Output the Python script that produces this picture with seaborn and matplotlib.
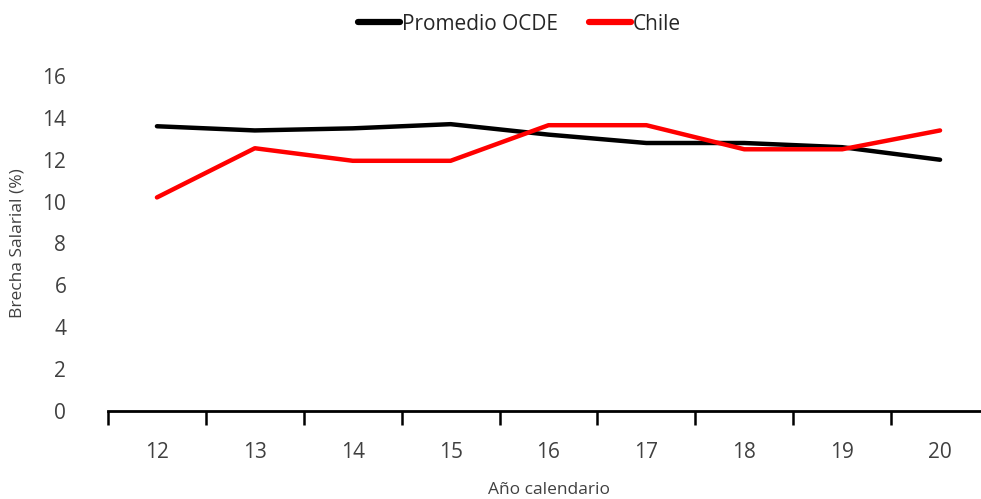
import matplotlib
matplotlib.use("Agg")
import matplotlib.pyplot as plt
import seaborn as sns
import pandas as pd
import numpy as np
from matplotlib.lines import Line2D

years = ["12", "13", "14", "15", "16", "17", "18", "19", "20"]
ocde = [13.6, 13.4, 13.5, 13.7, 13.2, 12.8, 12.8, 12.6, 12.0]
chile = [10.2, 12.55, 11.95, 11.95, 13.65, 13.65, 12.5, 12.5, 13.4]
series_names = ["Promedio OCDE", "Chile"]
colors = ["#000000", "#ff0000"]

sns.set_theme(style="white")
plt.rcParams['font.family'] = ['Open Sans', 'DejaVu Sans']

rows = []
for i, y in enumerate(years):
    rows.append({"x": i, "val": ocde[i], "serie": series_names[0]})
    rows.append({"x": i, "val": chile[i], "serie": series_names[1]})
df = pd.DataFrame(rows)

fig = plt.figure(figsize=(9.81, 4.99), dpi=100)
ax = fig.add_axes([108/981, (499-411)/499, (989-108)/981, (411-76)/499])

sns.lineplot(data=df, x="x", y="val", hue="serie", palette=dict(zip(series_names, colors)),
             linewidth=3.2, ax=ax, legend=False)

ax.set_xlim(-0.5, 8.5)
ax.set_ylim(0, 16)
ax.set_yticks(range(0, 17, 2))
ax.set_xticks(range(len(years)))
ax.set_xticklabels(years)
ax.set_xticks(np.arange(-0.5, 9.0, 1.0), minor=True)
ax.tick_params(axis="x", which="major", bottom=True, length=0, pad=22, labelsize=15, labelcolor="#404040")
ax.tick_params(axis="x", which="minor", bottom=True, length=10, width=1.8, color="black", direction="out")
ax.tick_params(axis="y", length=0, pad=30, labelsize=15, labelcolor="#404040")

for s in ["top", "right", "left"]:
    ax.spines[s].set_visible(False)
ax.spines["bottom"].set_linewidth(2)
ax.spines["bottom"].set_color("black")

ax.set_xlabel("Año calendario", fontsize=12.5, color="#404040", labelpad=14)
ax.set_ylabel("Brecha Salarial (%)", fontsize=12.5, color="#404040", labelpad=12)

handles = [Line2D([0], [0], color=c, lw=4.5, solid_capstyle="round") for c in colors]
fig.legend(handles, series_names, loc="upper center", bbox_to_anchor=(0.53, 1.01), ncol=2,
           frameon=False, fontsize=15, handlelength=2.0, handletextpad=0.1, columnspacing=1.5)

fig.savefig("out.png", dpi=100)
